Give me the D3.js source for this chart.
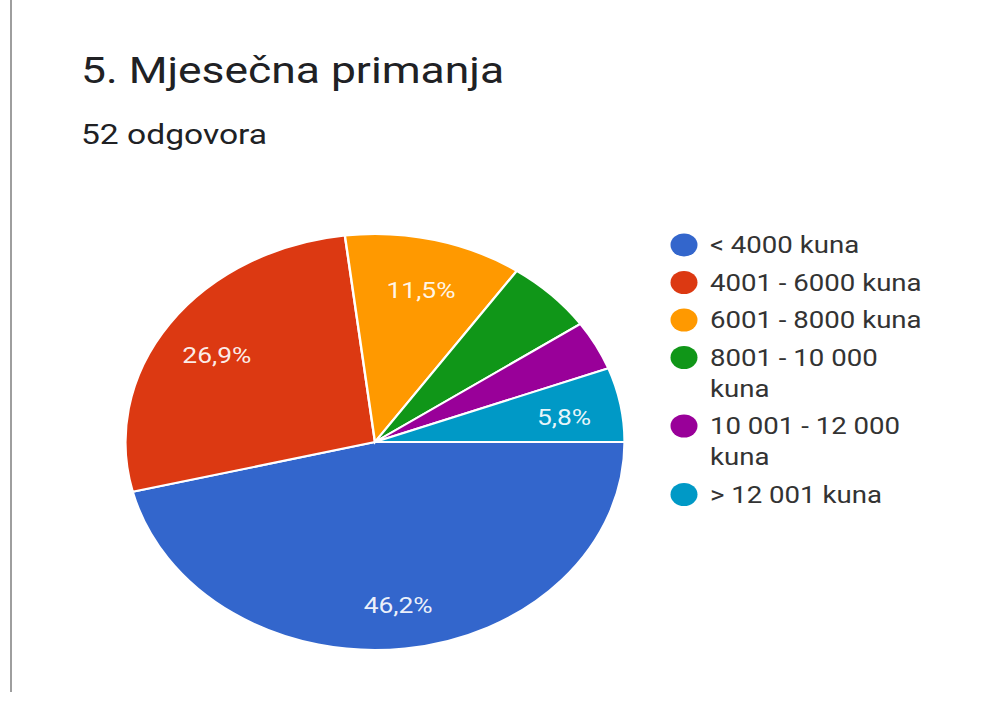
<!DOCTYPE html>
<html>
<head>
<meta charset="utf-8">
<script src="https://cdn.jsdelivr.net/npm/d3@7"></script>
<style>
  body { margin: 0; background: #fff; }
  svg { display: block; font-family: Roboto, "Noto Sans", sans-serif; }
</style>
</head>
<body>
<div class="container"></div>
<script>
const categories = [
  "< 4000 kuna",
  "4001 - 6000 kuna",
  "6001 - 8000 kuna",
  "8001 - 10 000 kuna",
  "10 001 - 12 000 kuna",
  "> 12 001 kuna"
];
const counts = [24, 14, 6, 3, 2, 3];
const colors = ["#3366cc", "#dc3912", "#ff9900", "#109618", "#990099", "#0099c6"];
const labelled = ["< 4000 kuna", "4001 - 6000 kuna", "6001 - 8000 kuna", "> 12 001 kuna"];
const title = "5. Mjesečna primanja";
const subtitle = "52 odgovora";

const width = 1002, height = 708;
// the photo is stretched sideways, so everything is drawn in a scaled group
const sx = 1.2;
const cx = 375 / sx, cy = 442, r = 208;

const svg = d3.select(".container")
  .append("svg")
  .attr("width", width)
  .attr("height", height);

svg.append("rect").attr("width", width).attr("height", height).attr("fill", "#fff");

// left border of the card
svg.append("line")
  .attr("x1", 11).attr("x2", 11)
  .attr("y1", 0).attr("y2", 692)
  .attr("stroke", "#9e9e9e")
  .attr("stroke-width", 2);

const g = svg.append("g").attr("transform", `scale(${sx},1)`);

g.append("text")
  .attr("x", 81 / sx).attr("y", 83)
  .attr("font-size", 37)
  .attr("fill", "#202124")
  .text(title);

g.append("text")
  .attr("x", 81 / sx).attr("y", 144)
  .attr("font-size", 28)
  .attr("fill", "#202124")
  .text(subtitle);

const total = d3.sum(counts);
const data = categories.map((c, i) => ({ name: c, value: counts[i], color: colors[i] }));

const pie = d3.pie()
  .value(d => d.value)
  .sort(null)
  .startAngle(Math.PI / 2)
  .endAngle(Math.PI / 2 + 2 * Math.PI);

const arc = d3.arc().innerRadius(0).outerRadius(r);
const labelArc = d3.arc().innerRadius(r * 0.77).outerRadius(r * 0.77);

const pieG = g.append("g").attr("transform", `translate(${cx},${cy})`);

pieG.selectAll("path")
  .data(pie(data))
  .enter()
  .append("path")
  .attr("d", arc)
  .attr("fill", d => d.data.color)
  .attr("stroke", "#fff")
  .attr("stroke-width", 2);

const fmt = v => (Math.round(v * 1000) / 10).toFixed(1).replace(".", ",") + "%";

pieG.selectAll(".lbl")
  .data(pie(data).filter(d => labelled.includes(d.data.name)))
  .enter()
  .append("text")
  .attr("class", "lbl")
  .attr("transform", d => {
    const [px, py] = labelArc.centroid(d);
    return `translate(${px},${py + 4})`;
  })
  .attr("text-anchor", "middle")
  .attr("dominant-baseline", "central")
  .attr("font-size", 22)
  .attr("fill", "#fff")
  .attr("fill-opacity", 0.92)
  .text(d => fmt(d.value / total));

// legend
const legX = 684 / sx, textX = 710 / sx, maxW = 222 / sx;
let y = 245;
data.forEach(d => {
  const item = g.append("g");
  item.append("ellipse")
    .attr("cx", legX).attr("cy", y)
    .attr("rx", 13.5 / sx).attr("ry", 11.5)
    .attr("fill", d.color);
  const t = item.append("text")
    .attr("x", textX)
    .attr("font-size", 23)
    .attr("fill", "#333");
  const words = d.name.split(" ");
  let line = [], lines = [];
  const probe = t.append("tspan");
  words.forEach(w => {
    probe.text([...line, w].join(" "));
    if (line.length && probe.node().getComputedTextLength() > maxW) {
      lines.push(line.join(" "));
      line = [w];
    } else {
      line.push(w);
    }
  });
  lines.push(line.join(" "));
  probe.remove();
  lines.forEach((l, k) => {
    t.append("tspan")
      .attr("x", textX)
      .attr("y", y + k * 31)
      .attr("dominant-baseline", "central")
      .text(l);
  });
  y += 37.5 + (lines.length - 1) * 31;
});
</script>
</body>
</html>
